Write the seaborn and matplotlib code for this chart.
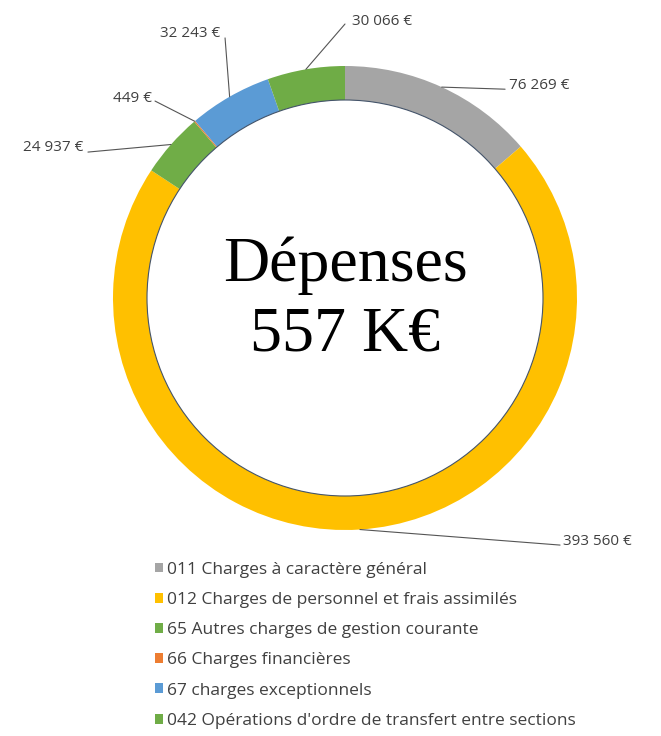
"""
Donut chart of expenses (Dépenses) by chapter, with leader-line labels
"""
import numpy as np
import matplotlib
matplotlib.use('Agg')
import matplotlib.pyplot as plt
import seaborn as sns

categories = ['011 Charges à caractère général',
              '012 Charges de personnel et frais assimilés',
              '65 Autres charges de gestion courante',
              '66 Charges financières',
              '67 charges exceptionnels',
              "042 Opérations d'ordre de transfert entre sections"]
amounts = [76269, 393560, 24937, 449, 32243, 30066]
value_labels = ['76 269 €', '393 560 €', '24 937 €', '449 €', '32 243 €', '30 066 €']
colors = ['#A5A5A5', '#FFC000', '#70AD47', '#ED7D31', '#5B9BD5', '#6FAC46']
center_text = 'Dépenses\n557 K€'

# where each label text sits (in pie units, radius 1), its alignment and leader end
label_pos = [(0.707, 0.915), (0.94, -1.05), (-1.129, 0.65), (-0.832, 0.858), (-0.539, 1.14), (0.03, 1.19)]
label_ha = ['left', 'left', 'right', 'right', 'right', 'left']
leader_end = [(0.69, 0.90), (0.927, -1.065), (-1.108, 0.629), (-0.819, 0.849), (-0.517, 1.121), (0.0, 1.181)]

sns.set_theme(style='white')
plt.rcParams['font.family'] = ['Open Sans', 'DejaVu Sans']

W, H = 661, 736
fig = plt.figure(figsize=(W / 100, H / 100), dpi=100)
cx, cy, r = 345, 298, 232
ax = fig.add_axes([(cx - r) / W, (H - cy - r) / H, 2 * r / W, 2 * r / H])

ring = 34 / r
wedges, _ = ax.pie(amounts, colors=colors, startangle=90, counterclock=False,
                   radius=1, wedgeprops=dict(width=ring, linewidth=0))
ax.add_patch(plt.Circle((0, 0), 1 - ring, fill=False, color='#44546A', lw=0.8))
ax.set_xlim(-1, 1)
ax.set_ylim(-1, 1)
ax.set_aspect('equal')
ax.axis('off')

for w, txt, pos, ha, end in zip(wedges, value_labels, label_pos, label_ha, leader_end):
    ang = np.deg2rad((w.theta1 + w.theta2) / 2)
    xy = (np.cos(ang), np.sin(ang))
    ax.annotate('', xy=xy, xytext=end,
                arrowprops=dict(arrowstyle='-', color='#555555', lw=0.8,
                                shrinkA=0, shrinkB=0))
    ax.text(pos[0], pos[1], txt, ha=ha, va='center', fontsize=11, color='#404040')

ax.text(0, -0.01, center_text, ha='center', va='center', fontsize=46,
        family=['Liberation Serif', 'DejaVu Serif'], color='black', linespacing=1.27)

fig.legend(wedges, categories, loc='upper left', bbox_to_anchor=(139 / W, 1 - 546 / H),
           frameon=False, fontsize=12.5, handlelength=0.5, handleheight=0.5,
           handletextpad=0.2, labelspacing=0.82, labelcolor='#404040')

fig.savefig('out.png', dpi=100, facecolor='white')
